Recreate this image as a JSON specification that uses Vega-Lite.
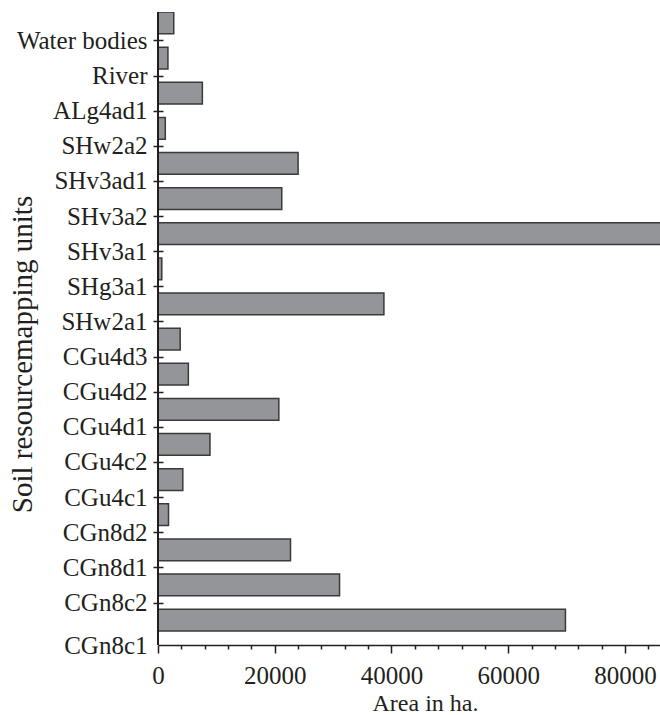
{
  "$schema": "https://vega.github.io/schema/vega-lite/v6.json",
  "width": 502,
  "height": 633,
  "autosize": {"type": "none"},
  "padding": {"left": 158, "top": 12, "right": 0, "bottom": 70},
  "config": {"view": {"stroke": null}, "font": "Liberation Serif"},
  "data": {
    "values": [
      {"unit": "Water bodies", "area": 2700},
      {"unit": "River", "area": 1700},
      {"unit": "ALg4ad1", "area": 7600},
      {"unit": "SHw2a2", "area": 1250},
      {"unit": "SHv3ad1", "area": 24000},
      {"unit": "SHv3a2", "area": 21200},
      {"unit": "SHv3a1", "area": 90000},
      {"unit": "SHg3a1", "area": 650},
      {"unit": "SHw2a1", "area": 38700},
      {"unit": "CGu4d3", "area": 3800},
      {"unit": "CGu4d2", "area": 5200},
      {"unit": "CGu4d1", "area": 20700},
      {"unit": "CGu4c2", "area": 8900},
      {"unit": "CGu4c1", "area": 4250},
      {"unit": "CGn8d2", "area": 1800},
      {"unit": "CGn8d1", "area": 22700},
      {"unit": "CGn8c2", "area": 31100},
      {"unit": "CGn8c1", "area": 69800}
    ]
  },
  "resolve": {"axis": {"x": "independent"}},
  "layer": [
    {
      "mark": {"type": "bar", "fill": "#939598", "stroke": "#3a3a3a", "strokeWidth": 1.5, "clip": true},
      "encoding": {
        "y": {
          "field": "unit",
          "type": "nominal",
          "sort": null,
          "scale": {"paddingInner": 0.38, "paddingOuter": 0.2, "align": 0},
          "axis": {
            "title": "Soil resourcemapping units",
            "offset": -5,
            "domain": false,
            "tickSize": 10,
            "tickWidth": 1.5,
            "tickColor": "#231f20",
            "tickOffset": 17.57,
            "tickOpacity": {"condition": {"test": "datum.value === 'CGn8c1'", "value": 0}, "value": 1},
            "labelOffset": {"condition": {"test": "datum.value === 'CGn8c1'", "value": 8}, "value": 0},
            "labelPadding": 6,
            "labelFontSize": 25,
            "labelColor": "#231f20",
            "labelFont": "Liberation Serif",
            "labelLimit": 300,
            "titleFont": "Liberation Serif",
            "titleFontSize": 29,
            "titleFontWeight": "normal",
            "titleColor": "#231f20",
            "titleBaseline": "alphabetic",
            "titleX": -132,
            "titleY": 342
          }
        },
        "x": {
          "field": "area",
          "type": "quantitative",
          "scale": {"domain": [0, 86000], "nice": false},
          "axis": {
            "orient": "bottom",
            "title": "Area in ha.",
            "grid": false,
            "values": [0, 20000, 40000, 60000, 80000],
            "format": "d",
            "labelFlush": false,
            "labelOverlap": false,
            "tickSize": 8,
            "tickWidth": 1.5,
            "tickColor": "#231f20",
            "domainWidth": 1.5,
            "domainColor": "#231f20",
            "labelFontSize": 25,
            "labelColor": "#231f20",
            "labelFont": "Liberation Serif",
            "labelPadding": 10,
            "titleFont": "Liberation Serif",
            "titleFontSize": 24,
            "titleFontWeight": "normal",
            "titleColor": "#231f20",
            "titleBaseline": "alphabetic",
            "titleX": 267,
            "titleY": 65
          }
        }
      }
    },
    {
      "mark": {"type": "rule", "color": "#231f20", "strokeWidth": 1.5},
      "encoding": {
        "x": {
          "datum": 0,
          "type": "quantitative",
          "axis": {
            "orient": "bottom",
            "title": null,
            "grid": false,
            "labels": false,
            "domain": false,
            "values": [4000, 8000, 12000, 16000, 24000, 28000, 32000, 36000, 44000, 48000, 52000, 56000, 64000, 68000, 72000, 76000, 84000],
            "tickSize": 4,
            "tickWidth": 1.5,
            "tickColor": "#231f20"
          }
        }
      }
    }
  ]
}
